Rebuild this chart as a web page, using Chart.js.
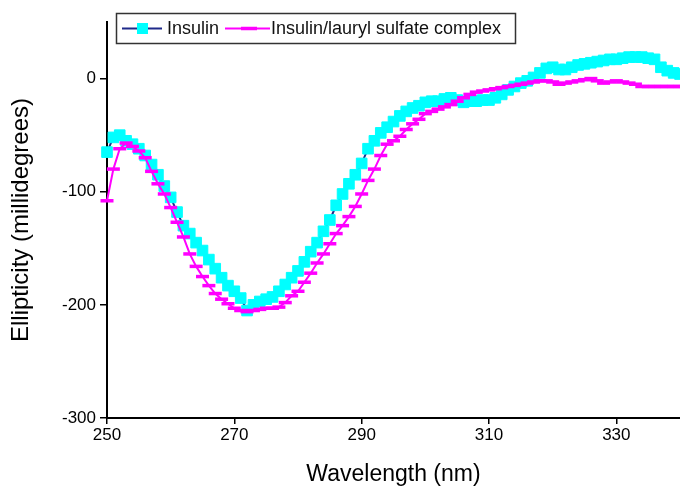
<!DOCTYPE html>
<html>
<head>
<meta charset="utf-8">
<script src="https://cdn.jsdelivr.net/npm/chart.js@4"></script>
<style>
  html, body { margin: 0; padding: 0; background: #fff; }
  #wrap { width: 680px; height: 488px; }
</style>
</head>
<body>
<div id="wrap"><canvas id="myChart" width="680" height="488"></canvas></div>
<script>
// wavelength (nm), one reading per nm
const wavelengths = [
  250, 251, 252, 253, 254, 255, 256, 257, 258, 259,
  260, 261, 262, 263, 264, 265, 266, 267, 268, 269,
  270, 271, 272, 273, 274, 275, 276, 277, 278, 279,
  280, 281, 282, 283, 284, 285, 286, 287, 288, 289,
  290, 291, 292, 293, 294, 295, 296, 297, 298, 299,
  300, 301, 302, 303, 304, 305, 306, 307, 308, 309,
  310, 311, 312, 313, 314, 315, 316, 317, 318, 319,
  320, 321, 322, 323, 324, 325, 326, 327, 328, 329,
  330, 331, 332, 333, 334, 335, 336, 337, 338, 339,
  340
];

// ellipticity (millidegrees)
const insulin = [
  -65, -52, -50, -55, -58, -62, -68, -76, -85, -95,
  -105, -118, -130, -137, -145, -152, -160, -168, -176, -183,
  -188, -194, -205, -200, -197, -195, -193, -188, -182, -176,
  -170, -162, -153, -145, -135, -125, -112, -102, -93, -85,
  -75, -62, -55, -48, -43, -38, -33, -29, -26, -24,
  -21, -20, -20, -18, -17, -19, -21, -20, -20, -19,
  -19, -17, -14, -10, -7, -4, -2, 1, 5, 9,
  10, 8, 8, 10, 12, 13, 14, 15, 16, 17,
  17, 18, 19, 19, 19, 18, 17, 10, 7, 5,
  4
];

const complexLS = [
  -108, -80, -62, -57, -60, -64, -70, -82, -93, -102,
  -114, -127, -140, -155, -166, -175, -183, -190, -195, -199,
  -203, -205, -206, -205, -204, -203, -203, -202, -198, -192,
  -188, -180, -172, -163, -155, -146, -137, -130, -122, -113,
  -102, -90, -80, -68, -58, -55, -51, -45, -40, -36,
  -31, -29, -27, -25, -23, -20, -17, -14, -12, -11,
  -10, -9, -8, -7, -6, -5, -4, -3, -2, -2,
  -3, -5, -4, -3, -2, -1, 0, -2, -4, -3,
  -2, -3, -4, -5, -7, -7, -7, -7, -7, -7,
  -7
];

const seriesNames = ['Insulin', 'Insulin/lauryl sulfate complex'];
const xTicks = [250, 270, 290, 310, 330];
const yTicks = [-300, -200, -100, 0];

const FONT = '"Liberation Sans", Arial, sans-serif';

// boxed legend sitting over the top of the plot
const boxLegend = {
  id: 'boxLegend',
  afterDraw(chart) {
    const ctx = chart.ctx;
    ctx.save();
    ctx.fillStyle = '#fff';
    ctx.fillRect(116, 13, 400, 30);
    ctx.strokeStyle = '#333';
    ctx.lineWidth = 1.5;
    ctx.strokeRect(116.5, 13.5, 399, 30);

    const y = 28.5;
    // Insulin sample
    ctx.strokeStyle = '#1f2a8a';
    ctx.lineWidth = 2;
    ctx.beginPath(); ctx.moveTo(122, y); ctx.lineTo(162, y); ctx.stroke();
    ctx.fillStyle = '#00ffff';
    ctx.fillRect(137, y - 5.5, 11, 11);
    // complex sample
    ctx.strokeStyle = '#ff00ff';
    ctx.lineWidth = 2;
    ctx.beginPath(); ctx.moveTo(225, y); ctx.lineTo(270, y); ctx.stroke();
    ctx.lineWidth = 3.5;
    ctx.beginPath(); ctx.moveTo(241, y); ctx.lineTo(257, y); ctx.stroke();

    ctx.fillStyle = '#111';
    ctx.font = '18px ' + FONT;
    ctx.textBaseline = 'middle';
    ctx.fillText(seriesNames[0], 167, y + 0.5);
    ctx.fillText(seriesNames[1], 271, y + 0.5);
    ctx.restore();
  }
};

const ctx = document.getElementById('myChart').getContext('2d');
const myChart = new Chart(ctx, {
  type: 'line',
  data: {
    datasets: [{
      label: seriesNames[0],
      data: wavelengths.map((w, i) => ({ x: w, y: insulin[i] })),
      borderColor: '#1f2a8a',
      borderWidth: 2,
      pointStyle: 'rect',
      pointRadius: 7.5,
      pointBackgroundColor: '#00ffff',
      pointBorderColor: '#00ffff',
      pointBorderWidth: 1,
      tension: 0,
      clip: false,
      order: 1
    }, {
      label: seriesNames[1],
      data: wavelengths.map((w, i) => ({ x: w, y: complexLS[i] })),
      borderColor: '#ff00ff',
      borderWidth: 2,
      pointStyle: 'line',
      pointRadius: 6.5,
      pointBorderColor: '#ff00ff',
      pointBorderWidth: 3.5,
      tension: 0,
      clip: false,
      order: 0
    }]
  },
  options: {
    responsive: false,
    animation: false,
    devicePixelRatio: 1,
    layout: { autoPadding: false, padding: { top: 22, right: 0, left: 0, bottom: 0 } },
    plugins: {
      legend: { display: false },
      tooltip: { enabled: false }
    },
    scales: {
      x: {
        type: 'linear',
        min: 250,
        max: 340,
        afterBuildTicks: (scale) => { scale.ticks = xTicks.map(v => ({ value: v })); },
        afterFit: (scale) => { scale.height = 70; scale.paddingRight = 0; scale.paddingLeft = 0; },
        ticks: { color: '#000', font: { family: FONT, size: 17 }, padding: 1, maxRotation: 0 },
        grid: { display: true, drawOnChartArea: false, drawTicks: true, tickLength: 6, color: '#000', lineWidth: 1.5 },
        border: { display: true, color: '#000', width: 2 },
        title: { display: true, text: 'Wavelength (nm)', color: '#000', font: { family: FONT, size: 23 }, padding: { top: 0, bottom: 0 } }
      },
      y: {
        min: -300,
        max: 50,
        afterBuildTicks: (scale) => { scale.ticks = yTicks.map(v => ({ value: v })); },
        afterFit: (scale) => { scale.width = 107; scale.paddingTop = 0; scale.paddingBottom = 0; },
        ticks: { color: '#000', font: { family: FONT, size: 17 }, padding: 4 },
        grid: { display: true, drawOnChartArea: false, drawTicks: true, tickLength: 7, color: '#000', lineWidth: 1.5 },
        border: { display: true, color: '#000', width: 2 },
        title: { display: true, text: 'Ellipticity (millidegrees)', color: '#000', font: { family: FONT, size: 24 }, padding: { top: 7, bottom: 0 } }
      }
    }
  },
  plugins: [boxLegend]
});
</script>
</body>
</html>
